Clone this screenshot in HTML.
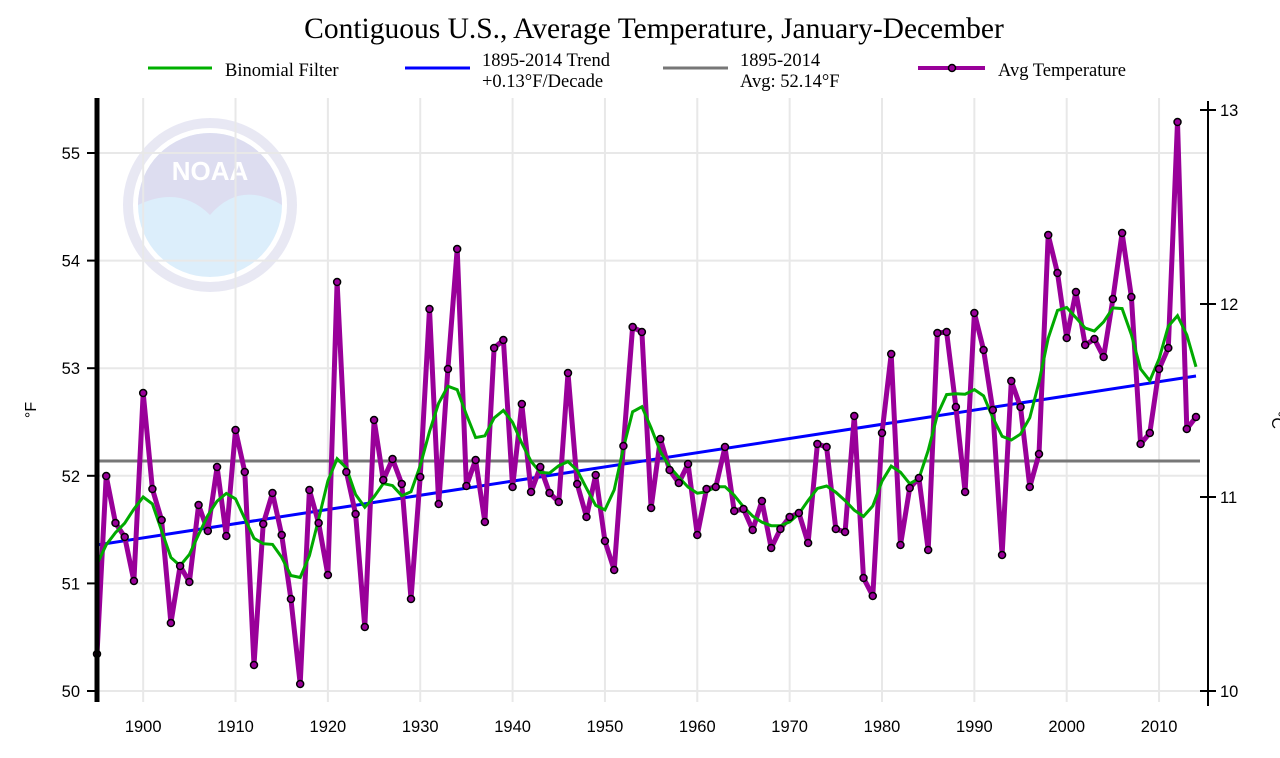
<!DOCTYPE html>
<html><head><meta charset="utf-8"><style>
body{margin:0;background:#fff;}
svg{display:block}
</style></head><body>
<svg id="c" width="1280" height="758" xmlns="http://www.w3.org/2000/svg" font-family="Liberation Sans, sans-serif">
<rect width="1280" height="758" fill="#fff"/>
<text x="654" y="38" font-family="Liberation Serif, serif" font-size="29.5" text-anchor="middle">Contiguous U.S., Average Temperature, January-December</text>
<g font-family="Liberation Serif, serif" font-size="18.5">
<line x1="148" y1="68" x2="212" y2="68" stroke="#00b000" stroke-width="3"/>
<text x="225" y="76">Binomial Filter</text>
<line x1="405" y1="68" x2="470" y2="68" stroke="#0000ff" stroke-width="3"/>
<text x="482" y="66">1895-2014 Trend</text><text x="482" y="87">+0.13°F/Decade</text>
<line x1="663" y1="68" x2="728" y2="68" stroke="#777" stroke-width="3"/>
<text x="740" y="66">1895-2014</text><text x="740" y="87">Avg: 52.14°F</text>
<line x1="918" y1="68" x2="985" y2="68" stroke="#990099" stroke-width="4"/>
<circle cx="952" cy="68" r="3.5" fill="#990099" stroke="#000" stroke-width="1.5"/>
<text x="998" y="76">Avg Temperature</text>
</g>
<g opacity="0.85">
<circle cx="210" cy="205" r="72" fill="#d7ecfb"/>
<path d="M138,205 A72,72 0 0 1 282,205 Q240,180 210,215 Q180,185 138,205Z" fill="#d8d8ee"/>
<text x="210" y="180" font-size="26" font-weight="bold" fill="#fff" text-anchor="middle">NOAA</text>
<circle cx="210" cy="205" r="82" fill="none" stroke="#e4e4f2" stroke-width="10"/>
</g>
<g id="grid" stroke="#e8e8e8" stroke-width="2"></g>
<g id="plot"></g>
<line x1="97" y1="98" x2="97" y2="702" stroke="#000" stroke-width="5"/>
<line x1="1208" y1="101" x2="1208" y2="706" stroke="#000" stroke-width="2"/>
<g id="ax" font-size="16.5"></g>
<text transform="translate(36,410) rotate(-90)" font-size="16" text-anchor="middle">°F</text>
<text transform="translate(1272,420) rotate(90)" font-size="16" text-anchor="middle">°C</text>
</svg>
<script>
var ys=[654,476,523,537,581,393,489,520,623,566,582,505,531,467,536,430,472,665,524,493,535,599,684,490,523,575,282,472,514,627,420,480,459,484,599,477,309,504,369,249,486,460,522,348,340,487,404,492,467,493,502,373,484,517,475,541,570,446,327,332,508,439,470,483,464,535,489,487,447,511,509,530,501,548,529,517,513,543,444,447,529,532,416,578,596,433,354,545,488,478,550,333,332,407,492,313,350,410,555,381,407,487,454,235,273,338,292,345,339,357,299,233,297,444,433,369,348,122,429,417];
var NS="http://www.w3.org/2000/svg";
function X(i){return 97+i*(1099/119);}
function el(t,a,p){var e=document.createElementNS(NS,t);for(var k in a)e.setAttribute(k,a[k]);p.appendChild(e);return e;}
var g=document.getElementById('grid'),p=document.getElementById('plot'),ax=document.getElementById('ax');
var fy=[691,583.4,475.8,368.2,260.6,153];
fy.forEach(function(y,i){el('line',{x1:97,x2:1208,y1:y,y2:y},g);
el('line',{x1:87,x2:97,y1:y,y2:y,stroke:'#000','stroke-width':2},ax);
el('text',{x:80,y:y+6,'text-anchor':'end'},ax).textContent=50+i;});
for(var d=1900;d<=2010;d+=10){var x=X(d-1895);el('line',{x1:x,x2:x,y1:98,y2:702},g);
el('text',{x:x,y:732,'text-anchor':'middle'},ax).textContent=d;}
[691,497,304,110].forEach(function(y,i){el('line',{x1:1200,x2:1216,y1:y,y2:y,stroke:'#000','stroke-width':2},ax);
el('text',{x:1220,y:y+6},ax).textContent=10+i;});
el('line',{x1:97,x2:1200,y1:461,y2:461,stroke:'#777','stroke-width':3},p);
el('line',{x1:97,x2:1196,y1:545,y2:376,stroke:'#0000ff','stroke-width':3},p);
var pts=ys.map(function(y,i){return X(i).toFixed(1)+','+y;}).join(' ');
el('polyline',{points:pts,fill:'none',stroke:'#990099','stroke-width':5,'stroke-linejoin':'round'},p);
var w=[1,8,28,56,70,56,28,8,1],sm=[];
for(var i=0;i<ys.length;i++){var s=0,ws=0;for(var k=-4;k<=4;k++){var j=i+k;if(j>=0&&j<ys.length){s+=ys[j]*w[k+4];ws+=w[k+4];}}sm.push(X(i).toFixed(1)+','+(s/ws).toFixed(1));}
el('polyline',{points:sm.join(' '),fill:'none',stroke:'#00aa00','stroke-width':3},p);
ys.forEach(function(y,i){el('circle',{cx:X(i),cy:y,r:3.5,fill:'#990099',stroke:'#000','stroke-width':1.5},p);});
</script>
</body></html>
